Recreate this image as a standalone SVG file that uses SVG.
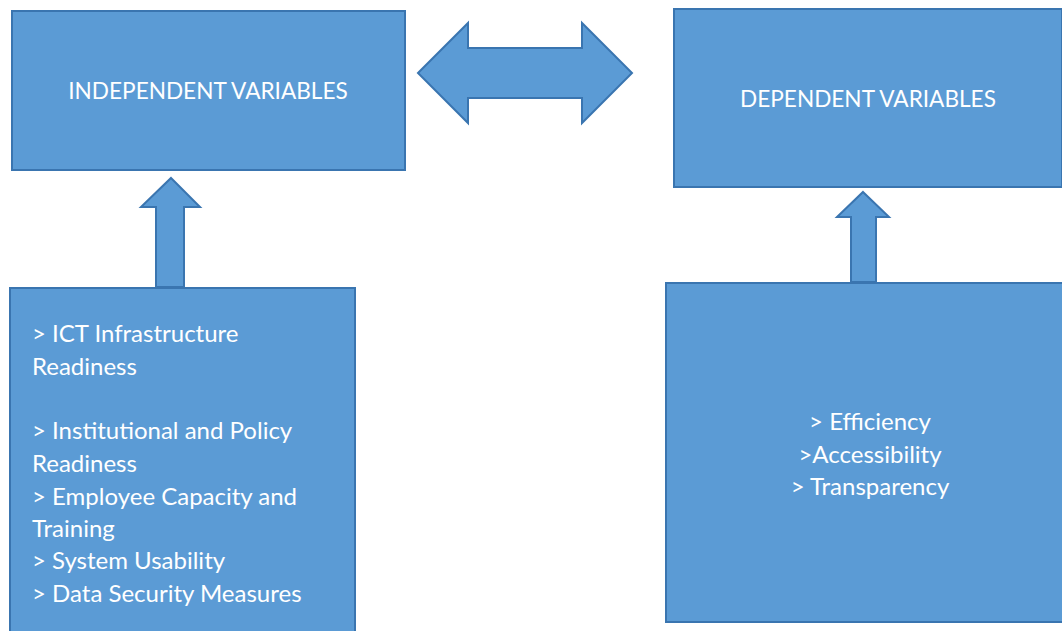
<svg xmlns="http://www.w3.org/2000/svg" width="1062" height="631" viewBox="0 0 1062 631">
<style>
.shape{fill:#5B9BD5;stroke:#3A75B0;stroke-width:2}
.t{fill:#FFFFFF;font-family:Lato,"Open Sans",sans-serif;font-size:24px}
.h{font-size:22.6px}
.c{text-anchor:middle}
</style>
<rect width="1062" height="631" fill="#FFFFFF"/>
<g id="connectors">
<polygon class="shape" points="418,73 468,23 468,48 582,48 582,23 632,73 582,123 582,98 468,98 468,123"/>
<polygon class="shape" points="171,178 200,207 184,207 184,287 156,287 156,207 141,207"/>
<polygon class="shape" points="863,192 889,217 876,217 876,282 851,282 851,217 837,217"/>
</g>
<g id="independent">
<rect class="shape" x="12" y="11" width="393" height="159"/>
<text class="t h c" x="208" y="99">INDEPENDENT VARIABLES</text>
</g>
<g id="dependent">
<rect class="shape" x="674" y="9" width="388" height="178"/>
<text class="t h c" x="868" y="107">DEPENDENT VARIABLES</text>
</g>
<g id="independent-list">
<rect class="shape" x="10" y="288" width="345" height="350"/>
<text class="t" x="32" y="342">&gt; ICT Infrastructure</text>
<text class="t" x="32" y="375">Readiness</text>
<text class="t" x="32" y="439">&gt; Institutional and Policy</text>
<text class="t" x="32" y="472">Readiness</text>
<text class="t" x="32" y="505">&gt; Employee Capacity and</text>
<text class="t" x="32" y="537">Training</text>
<text class="t" x="32" y="569">&gt; System Usability</text>
<text class="t" x="32" y="602">&gt; Data Security Measures</text>
</g>
<g id="dependent-list">
<rect class="shape" x="666" y="283" width="400" height="339"/>
<text class="t c" x="870" y="430">&gt; Efficiency</text>
<text class="t c" x="870" y="463">&gt;Accessibility</text>
<text class="t c" x="870" y="495">&gt; Transparency</text>
</g>
</svg>
